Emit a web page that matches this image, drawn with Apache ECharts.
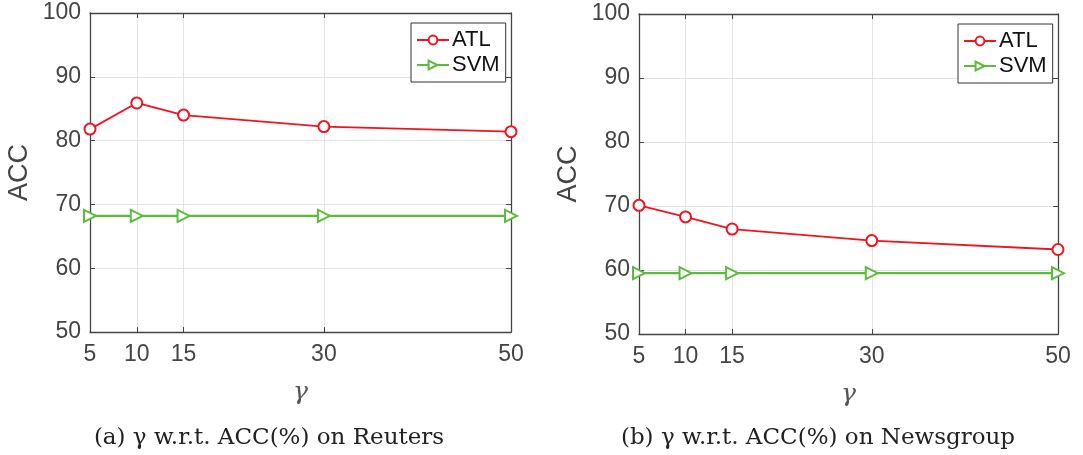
<!DOCTYPE html>
<html>
<head>
<meta charset="utf-8">
<script src="https://cdn.jsdelivr.net/npm/echarts@6/dist/echarts.min.js"></script>
<style>
  html, body { margin: 0; padding: 0; background: #fff; }
  #chart { width: 1083px; height: 455px; }
</style>
</head>
<body>
<div id="chart"></div>
<script>
// gamma values on the x axis
const gammaTicks = [5, 10, 15, 30, 50];
const accTicks = [50, 60, 70, 80, 90, 100];

// Reuters
const reutersATL = [81.8, 85.9, 84.0, 82.2, 81.4];
const reutersSVM = [68.2, 68.2, 68.2, 68.2, 68.2];

// Newsgroup
const newsATL = [70.1, 68.3, 66.4, 64.6, 63.2];
const newsSVM = [59.5, 59.5, 59.5, 59.5, 59.5];

const captions = ['(a) \u03b3 w.r.t. ACC(%) on Reuters', '(b) \u03b3 w.r.t. ACC(%) on Newsgroup'];

const RED = '#f0141e';
const GREEN = '#5cba3c';
const AXIS = '#444444';
const GRID = '#e3e3e3';
const SANS = '"Liberation Sans", Arial, sans-serif';
const SERIF = '"DejaVu Serif", "Liberation Serif", serif';

const grids = [
  { left: 90, right: 1083 - 511, top: 13, bottom: 455 - 332 },
  { left: 639, right: 1083 - 1058, top: 14, bottom: 455 - 334 }
];

const pair = (xs, ys) => xs.map((x, i) => [x, ys[i]]);

const xAxes = [], yAxes = [], series = [], legends = [], titles = [];
grids.forEach((g, gi) => {
  // bottom axis with labels
  xAxes.push({
    type: 'value', gridIndex: gi, min: 5, max: 50, position: 'bottom',
    name: '\u03b3', nameLocation: 'middle', nameGap: 48,
    nameTextStyle: { fontFamily: SERIF, fontStyle: 'italic', fontSize: 25, color: '#555' },
    axisLine: { show: true, onZero: false, lineStyle: { color: AXIS, width: 1.3 } },
    axisTick: { show: true, inside: true, length: 5, customValues: gammaTicks, lineStyle: { color: AXIS } },
    axisLabel: { customValues: gammaTicks, fontFamily: SANS, fontSize: 23, color: AXIS, margin: 11 },
    splitLine: { show: true, lineStyle: { color: GRID, width: 1 } }
  });
  // top edge of the box
  xAxes.push({
    type: 'value', gridIndex: gi, min: 5, max: 50, position: 'top',
    axisLine: { show: true, onZero: false, lineStyle: { color: AXIS, width: 1.3 } },
    axisTick: { show: true, inside: true, length: 5, customValues: gammaTicks, lineStyle: { color: AXIS } },
    axisLabel: { show: false },
    splitLine: { show: false }
  });
  yAxes.push({
    type: 'value', gridIndex: gi, min: 50, max: 100, interval: 10, position: 'left',
    name: 'ACC', nameLocation: 'middle', nameGap: 57, nameRotate: 90,
    nameTextStyle: { fontFamily: SANS, fontSize: 27, color: AXIS },
    axisLine: { show: true, onZero: false, lineStyle: { color: AXIS, width: 1.3 } },
    axisTick: { show: true, inside: true, length: 5, lineStyle: { color: AXIS } },
    axisLabel: { fontFamily: SANS, fontSize: 23, color: AXIS, margin: 9 },
    splitLine: { show: true, lineStyle: { color: GRID, width: 1 } }
  });
  yAxes.push({
    type: 'value', gridIndex: gi, min: 50, max: 100, interval: 10, position: 'right',
    axisLine: { show: true, onZero: false, lineStyle: { color: AXIS, width: 1.3 } },
    axisTick: { show: true, inside: true, length: 5, lineStyle: { color: AXIS } },
    axisLabel: { show: false },
    splitLine: { show: false }
  });

  const atl = gi === 0 ? reutersATL : newsATL;
  const svm = gi === 0 ? reutersSVM : newsSVM;
  const xi = gi * 2, yi = gi * 2;
  series.push({
    name: 'ATL', type: 'line', xAxisIndex: xi, yAxisIndex: yi,
    data: pair(gammaTicks, atl),
    symbol: 'circle', symbolSize: 11, showAllSymbol: true,
    lineStyle: { color: RED, width: 1.8 },
    itemStyle: { color: '#fff', borderColor: RED, borderWidth: 2 },
    z: 4
  });
  series.push({
    name: 'SVM', type: 'line', xAxisIndex: xi, yAxisIndex: yi,
    data: pair(gammaTicks, svm),
    symbol: 'triangle', symbolRotate: -90, symbolSize: 12, showAllSymbol: true,
    lineStyle: { color: GREEN, width: 2.2 },
    itemStyle: { color: '#fff', borderColor: GREEN, borderWidth: 2 },
    z: 3
  });

  legends.push({
    data: ['ATL', 'SVM'],
    orient: 'vertical',
    left: gi === 0 ? 411 : 958,
    top: gi === 0 ? 23 : 24,
    padding: [6, 6, 6, 5],
    itemGap: 3,
    itemWidth: 32,
    itemHeight: 11,
    backgroundColor: '#fff',
    borderColor: '#333',
    borderWidth: 1,
    borderRadius: 0,
    textStyle: { fontFamily: SANS, fontSize: 22, color: '#111', padding: [0, 0, 0, -2] },
    selectedMode: false
  });

  titles.push({
    text: captions[gi],
    left: gi === 0 ? 264 : 813,
    textAlign: 'center',
    top: 422,
    textStyle: { fontFamily: SERIF, fontWeight: 'normal', fontSize: 23, color: '#222' }
  });
});

const chart = echarts.init(document.getElementById('chart'), null, { renderer: 'canvas' });
chart.setOption({
  animation: false,
  backgroundColor: '#fff',
  title: titles,
  grid: grids,
  xAxis: xAxes,
  yAxis: yAxes,
  legend: legends,
  series: series
});
</script>
</body>
</html>
